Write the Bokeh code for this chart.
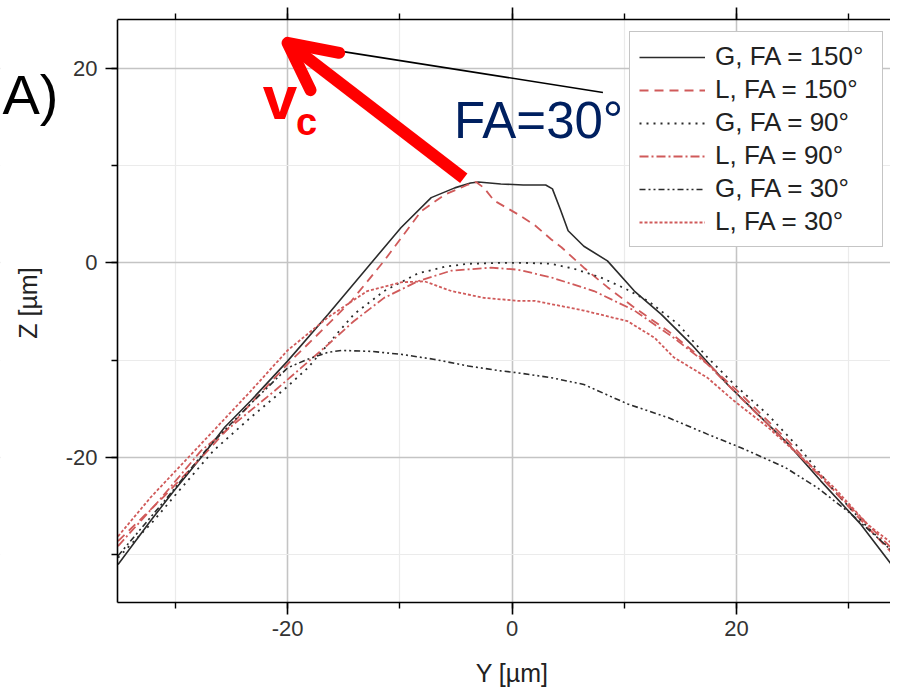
import math
from bokeh.plotting import figure
from bokeh.models import (Range1d, LinearAxis, SingleIntervalTicker, Legend, LegendItem,
                          Label, Arrow, OpenHead, PrintfTickFormatter, BoxAnnotation)
from bokeh.embed import file_html
from bokeh.resources import INLINE

# ---------------- data ----------------
g150_x = [-35.1, -32.2, -30.1, -27.7, -25.6, -23.3, -20.0, -16.4, -12.9, -9.9, -7.2, -5.1, -3.7,
          -3.0, -1.0, 1.0, 3.0, 3.6, 4.3, 5.0, 6.4, 8.5, 10.9, 13.3, 16.0, 19.2, 22.2, 24.6,
          27.5, 31.1, 34.4]
g150_y = [-31.0, -26.5, -23.4, -20.0, -16.9, -14.2, -10.1, -5.3, -0.5, 3.6, 6.7, 7.7, 8.2,
          8.3, 8.1, 8.0, 8.0, 7.6, 5.5, 3.3, 1.7, 0.2, -2.9, -5.3, -8.4, -12.5, -15.9, -18.6,
          -22.4, -26.9, -31.9]

l150_x = [-35.1, -31.0, -27.1, -23.3, -20.0, -17.6, -14.3, -11.4, -8.1, -6.0, -4.0, -3.2,
          -2.5, -1.6, 0.5, 2.0, 3.5, 4.4, 6.4, 8.5, 10.9, 13.9, 16.8, 20.4, 24.6, 28.1, 31.7, 34.5]
l150_y = [-28.6, -24.0, -19.3, -14.5, -10.4, -7.7, -3.9, 0.2, 5.3, 7.0, 8.0, 8.3,
          7.7, 6.4, 5.0, 3.9, 2.4, 1.6, -0.5, -2.5, -4.6, -7.0, -9.7, -13.5, -18.3, -22.7, -27.2, -30.6]

g90_x = [-35.1, -32.0, -30.1, -26.6, -23.3, -20.1, -18.2, -15.9, -14.1, -11.4, -8.4, -6.0,
         -3.9, -1.0, 1.0, 3.5, 5.5, 7.9, 10.0, 12.1, 14.8, 17.4, 19.8, 22.8, 25.8, 28.7, 31.7, 34.5]
g90_y = [-30.3, -26.6, -24.0, -19.3, -15.9, -12.8, -10.8, -7.7, -5.3, -2.9, -1.1, -0.4,
         -0.1, 0.0, 0.0, -0.1, -0.6, -1.5, -2.6, -3.9, -6.3, -9.7, -12.5, -15.6, -19.3, -23.4, -27.2, -30.3]

l90_x = [-35.1, -31.5, -27.7, -24.8, -21.2, -18.8, -16.4, -14.1, -11.4, -8.4, -5.4, -1.9,
         0.5, 3.5, 7.3, 10.9, 14.4, 17.4, 20.4, 24.3, 28.1, 31.7, 34.5]
l90_y = [-29.1, -24.5, -19.3, -16.6, -13.2, -10.8, -8.4, -6.0, -3.6, -1.9, -0.8, -0.5,
         -0.7, -1.5, -2.9, -4.9, -7.7, -10.4, -13.9, -18.3, -22.7, -26.9, -30.1]

g30_x = [-35.1, -31.0, -26.8, -23.3, -20.0, -18.2, -16.4, -15.2, -12.5, -9.9, -7.0, -3.9,
         -1.0, 0.5, 3.5, 6.4, 10.3, 13.9, 17.4, 20.4, 24.3, 27.2, 30.2, 33.2, 34.5]
g30_y = [-30.1, -24.5, -18.6, -14.5, -10.8, -9.9, -9.2, -9.0, -9.1, -9.4, -9.9, -10.6,
         -11.1, -11.3, -11.8, -12.5, -14.5, -15.9, -17.6, -19.0, -21.0, -23.1, -25.8, -28.9, -30.3]

l30_x = [-35.1, -32.2, -27.7, -23.3, -20.0, -16.4, -12.9, -9.9, -7.8, -5.4, -2.5, 0.5, 2.0,
         6.4, 10.3, 12.7, 14.4, 17.4, 19.8, 22.8, 25.8, 28.7, 31.7, 34.5]
l30_y = [-28.1, -24.1, -18.6, -13.2, -9.0, -5.6, -2.9, -2.0, -1.9, -2.9, -3.6, -3.9, -3.9,
         -4.9, -6.0, -7.7, -9.7, -11.8, -14.2, -16.9, -20.0, -23.1, -26.9, -29.4]

series_labels = ["G, FA = 150°", "L, FA = 150°", "G, FA = 90°",
                 "L, FA = 90°", "G, FA = 30°", "L, FA = 30°"]
panel_tag = "A)"
x_title = "Y [\u00b5m]"
y_title = "Z [\u00b5m]"

# axis extents (data units); the ranges also cover the margins so texts there are not clipped
x_lo, x_hi = -35.15, 33.72
y_lo, y_hi = -34.9, 25.0
x_canvas_lo = -45.574
y_canvas_lo = -43.735

# annotation anchor points (data units)
arrow_start = (-4.3, 8.7)
arrow_tip = (-20.0, 22.6)
pointer_end = (8.1, 17.5)

FONT = "Liberation Sans"
BLACK = "#2b2b2b"
RED = "#d05a5a"

p = figure(width=890, height=688, output_backend="svg", toolbar_location=None,
           x_range=Range1d(x_canvas_lo, x_hi), y_range=Range1d(y_canvas_lo, y_hi),
           min_border_left=0, min_border_right=0, min_border_top=19, min_border_bottom=0)
p.outline_line_color = None
p.background_fill_color = "white"
p.border_fill_color = "white"

xt = SingleIntervalTicker(interval=20, num_minor_ticks=2)
yt = SingleIntervalTicker(interval=20, num_minor_ticks=2)
p.xaxis.ticker = xt
p.yaxis.ticker = yt
p.xgrid.ticker = xt
p.ygrid.ticker = yt
p.xaxis.formatter = PrintfTickFormatter(format="%d")
p.yaxis.formatter = PrintfTickFormatter(format="%d")
p.xaxis.bounds = (x_lo, x_hi)
p.yaxis.bounds = (y_lo, y_hi)
p.xgrid.bounds = (x_lo, x_hi)
p.ygrid.bounds = (y_lo, y_hi)
p.yaxis.fixed_location = x_lo
p.xaxis.fixed_location = y_lo

for ax in (p.xaxis[0], p.yaxis[0]):
    ax.axis_line_color = "black"
    ax.axis_line_width = 1.6
    ax.major_tick_line_color = "black"
    ax.minor_tick_line_color = "black"
    ax.major_tick_line_width = 1.6
    ax.minor_tick_line_width = 1.4
    ax.major_tick_in = 0
    ax.major_tick_out = 12
    ax.minor_tick_in = 0
    ax.minor_tick_out = 6
    ax.major_label_text_font = FONT
    ax.major_label_text_font_size = "22px"
    ax.major_label_text_color = "#333333"
p.yaxis.major_label_standoff = 8
p.xaxis.major_label_standoff = 6

top = LinearAxis(ticker=SingleIntervalTicker(interval=20, num_minor_ticks=2),
                 bounds=(x_lo, x_hi),
                 major_label_text_font_size="1px", major_label_text_color=None,
                 axis_line_color="black", axis_line_width=1.6,
                 major_tick_in=0, major_tick_out=12, minor_tick_in=0, minor_tick_out=6,
                 major_tick_line_color="black", minor_tick_line_color="black",
                 major_tick_line_width=1.6, minor_tick_line_width=1.4,
                 major_label_standoff=0)
p.add_layout(top, "above")

for g in (p.xgrid[0], p.ygrid[0]):
    g.grid_line_color = "#c4c4c4"
    g.grid_line_width = 1.5
    g.minor_grid_line_color = "#ebebeb"
    g.minor_grid_line_width = 1.2

# white strips outside the axes (hide the grid there)
p.add_layout(BoxAnnotation(right=x_lo, fill_color="white", fill_alpha=1.0,
                           line_color=None, level="underlay"))
p.add_layout(BoxAnnotation(top=y_lo, fill_color="white", fill_alpha=1.0,
                           line_color=None, level="underlay"))

r1 = p.line(g150_x, g150_y, line_color=BLACK, line_width=1.6)
r2 = p.line(l150_x, l150_y, line_color=RED, line_width=1.8, line_dash="9 6")
r3 = p.line(g90_x, g90_y, line_color=BLACK, line_width=1.8, line_dash="2 5")
r4 = p.line(l90_x, l90_y, line_color=RED, line_width=1.8, line_dash="9 3 2 3")
r5 = p.line(g30_x, g30_y, line_color=BLACK, line_width=1.6, line_dash="6 3 2 3 2 3")
r6 = p.line(l30_x, l30_y, line_color=RED, line_width=1.8, line_dash="3 2")

legend = Legend(items=[LegendItem(label=lbl, renderers=[r])
                       for lbl, r in zip(series_labels, [r1, r2, r3, r4, r5, r6])],
                location=(629, 441), margin=0, padding=9, spacing=2,
                label_height=30, glyph_height=30, glyph_width=66, label_standoff=10,
                label_width=158,
                label_text_font=FONT, label_text_font_size="26px", label_text_color="#222222",
                border_line_color="#8c8c8c", border_line_width=1.5,
                background_fill_color="white", background_fill_alpha=1.0)
p.add_layout(legend)

# pointer line and arrow
p.segment(x0=[arrow_tip[0]], y0=[arrow_tip[1]], x1=[pointer_end[0]], y1=[pointer_end[1]],
          line_color="black", line_width=1.6)
p.add_layout(Arrow(x_start=arrow_start[0], y_start=arrow_start[1],
                   x_end=arrow_tip[0], y_end=arrow_tip[1],
                   line_color="#ff0000", line_width=12, line_cap="butt",
                   end=OpenHead(size=47, line_color="#ff0000", line_width=12,
                                line_cap="round", line_join="round")))

# axis titles
p.add_layout(Label(x=0.0, y=-42.19, text=x_title, text_font=FONT, text_font_size="25px",
                   text_color="#222222", text_align="center", text_baseline="alphabetic"))
p.add_layout(Label(x=-43.08, y=-4.13, text=y_title, text_font=FONT, text_font_size="25px",
                   text_color="#222222", text_align="center", text_baseline="alphabetic",
                   angle=math.pi / 2))

p.add_layout(Label(x=-5.17, y=14.62, text="FA=30°", text_font=FONT, text_font_size="51px",
                   text_color="#002060", text_baseline="alphabetic", text_align="left"))
p.add_layout(Label(x=-22.2, y=16.99, text="v", text_font=FONT, text_font_size="62px",
                   text_font_style="bold", text_color="#ff0000", text_baseline="alphabetic"))
p.add_layout(Label(x=-19.25, y=14.42, text="c", text_font=FONT, text_font_size="38px",
                   text_font_style="bold", text_color="#ff0000", text_baseline="alphabetic"))
p.add_layout(Label(x=-45.40, y=17.29, text=panel_tag, text_font=FONT, text_font_size="56px",
                   text_color="black", text_baseline="alphabetic"))

open("out.html", "w").write(file_html(p, INLINE))
